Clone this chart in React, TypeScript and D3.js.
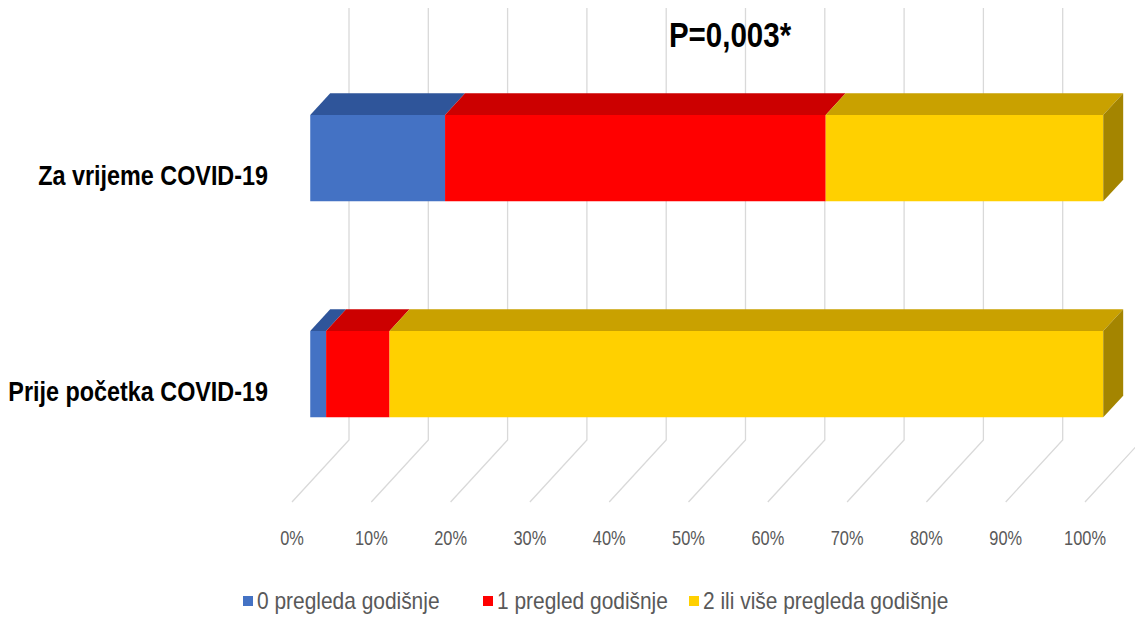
import React from 'react';
import * as d3 from 'd3';

const categories = ['Za vrijeme COVID-19', 'Prije početka COVID-19'];
const seriesNames = ['0 pregleda godišnje', '1 pregled godišnje', '2 ili više pregleda godišnje'];
const zeroVisits = [17, 2];
const oneVisit = [48, 8];
const twoPlusVisits = [35, 90];
const tickValues = [0, 10, 20, 30, 40, 50, 60, 70, 80, 90, 100];
const tickLabels = tickValues.map((t) => `${t}%`);
const pValue = 'P=0,003*';

const frontColors = ['#4472C4', '#FF0000', '#FFD000'];
const topColors = ['#2F559A', '#CC0000', '#C9A100'];
const sideColors = ['#25447C', '#A30000', '#A48500'];

const W = 1135;
const H = 618;
const FONT = "'Liberation Sans', Arial, sans-serif";
const NARROW = 0.82; // squeeze Arial metrics to a narrow face

// 3d depth vector of the floor (front edge -> back wall)
const DX = 57;
const DY = -62;
const Z0 = 0.32;
const Z1 = 0.67;
const FLOOR_Y = 502;
const WALL_TOP = 8;

function NText({ x, y, anchor = 'start', size, weight = 'normal', fill, sx = NARROW, children }: any) {
  return (
    <g transform={`translate(${x},${y}) scale(${sx},1)`}>
      <text x={0} y={0} textAnchor={anchor} fontFamily={FONT} fontSize={size} fontWeight={weight} fill={fill}>
        {children}
      </text>
    </g>
  );
}

export default function App() {
  const x = d3.scaleLinear().domain([0, 100]).range([292, 1085]);
  const y = d3.scaleBand<string>().domain(categories).range([70, FLOOR_Y]).paddingInner(0.6).paddingOuter(0.3);

  const rows = categories.map((c, i) => ({
    category: c,
    s0: zeroVisits[i],
    s1: oneVisit[i],
    s2: twoPlusVisits[i],
  }));
  const stacked = d3.stack<any>().keys(['s0', 's1', 's2'])(rows);

  const p = (v: number, yy: number, z: number) => [x(v) + z * DX, yy + z * DY];
  const poly = (pts: number[][]) => pts.map((q) => q.join(',')).join(' ');

  const grid = tickValues.map((t) => {
    const [fx, fy] = p(t, FLOOR_Y, 0);
    const [bx, by] = p(t, FLOOR_Y, 1);
    return `M${fx},${fy}L${bx},${by}L${bx},${WALL_TOP}`;
  });

  const legendX = [243, 483, 689];

  return (
    <svg width={W} height={H} style={{ position: 'absolute', left: 0, top: 0, background: '#fff' }}>
      <rect width={W} height={H} fill="#fff" />
      <g>
        {grid.map((d, i) => (
          <path key={i} d={d} fill="none" stroke="#D9D9D9" strokeWidth={1.3} />
        ))}
      </g>
      {categories.map((c, ci) => {
        const top = y(c)!;
        const bot = top + y.bandwidth();
        return (
          <g key={c}>
            {stacked.map((layer, si) => {
              const [v0, v1] = layer[ci];
              const front = [p(v0, top, Z0), p(v1, top, Z0), p(v1, bot, Z0), p(v0, bot, Z0)];
              const topFace = [p(v0, top, Z0), p(v1, top, Z0), p(v1, top, Z1), p(v0, top, Z1)];
              const side = [p(v1, top, Z0), p(v1, top, Z1), p(v1, bot, Z1), p(v1, bot, Z0)];
              return (
                <g key={si}>
                  <polygon points={poly(topFace)} fill={topColors[si]} />
                  <polygon points={poly(front)} fill={frontColors[si]} />
                  {si === stacked.length - 1 && <polygon points={poly(side)} fill={sideColors[si]} />}
                </g>
              );
            })}
            <NText x={268} y={top + y.bandwidth() / 2 + 7} anchor="end" size={28.5} weight="bold" fill="#000">
              {c}
            </NText>
          </g>
        );
      })}
      <NText x={730} y={47} anchor="middle" size={36} weight="bold" fill="#000">
        {pValue}
      </NText>
      <g>
        {tickValues.map((t, i) => (
          <NText key={t} x={x(t)} y={545} anchor="middle" size={20} fill="#595959">
            {tickLabels[i]}
          </NText>
        ))}
      </g>
      <g>
        {seriesNames.map((s, i) => (
          <g key={s}>
            <rect x={legendX[i]} y={596} width={10} height={10} fill={frontColors[i]} />
            <NText x={legendX[i] + 14} y={609} size={23} fill="#595959" sx={0.91}>
              {s}
            </NText>
          </g>
        ))}
      </g>
    </svg>
  );
}
